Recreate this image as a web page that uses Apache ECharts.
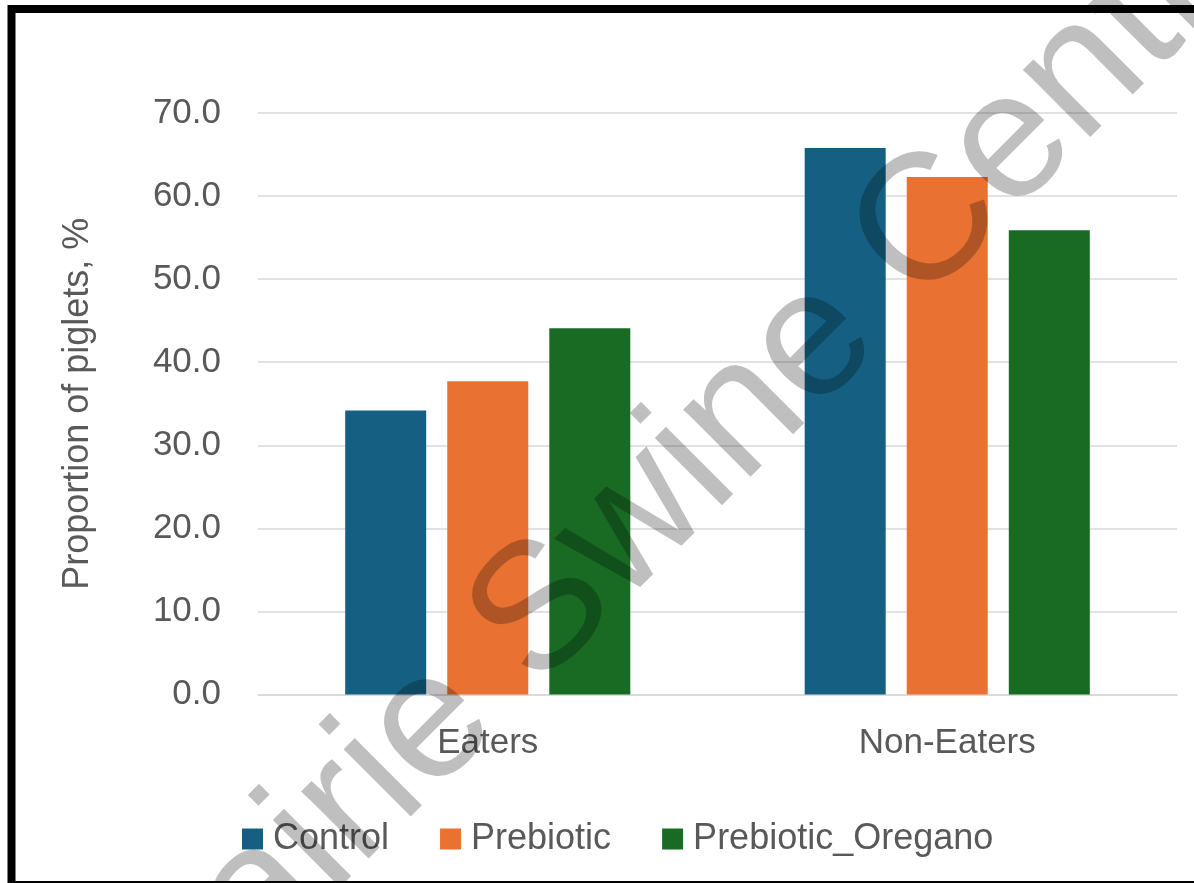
<!DOCTYPE html>
<html>
<head>
<meta charset="utf-8">
<script src="https://cdn.jsdelivr.net/npm/echarts@6/dist/echarts.min.js"></script>
<style>
  html, body { margin: 0; padding: 0; background: #ffffff; }
  #chart { width: 1194px; height: 883px; }
</style>
</head>
<body>
<div id="chart"></div>
<script>
// Feeding groups on the category axis
const categories = ['Eaters', 'Non-Eaters'];

// Treatment series, proportion of piglets (%)
const seriesNames = ['Control', 'Prebiotic', 'Prebiotic_Oregano'];
const control = [34.2, 65.8];
const prebiotic = [37.7, 62.3];
const prebioticOregano = [44.1, 55.9];

// Value-axis ticks
const yMin = 0;
const yMax = 70;
const yStep = 10;

const seriesColors = ['#156082', '#E97132', '#196B24'];
const textColor = '#595959';
const fontFamily = '"Liberation Sans", Arial, sans-serif';

const seriesValues = [control, prebiotic, prebioticOregano];

const chart = echarts.init(document.getElementById('chart'), null, { renderer: 'canvas' });

chart.setOption({
  backgroundColor: '#ffffff',
  animation: false,
  textStyle: { fontFamily: fontFamily },
  grid: { left: 258, right: 17, top: 113, bottom: 188.5, containLabel: false },
  legend: {
    data: seriesNames,
    left: 242,
    top: 821,
    padding: 0,
    icon: 'rect',
    itemWidth: 21,
    itemHeight: 21,
    itemGap: 51,
    textStyle: { color: textColor, fontSize: 36, fontFamily: fontFamily, padding: [0, 0, 0, 5] }
  },
  xAxis: {
    type: 'category',
    data: categories,
    axisLine: { show: true, lineStyle: { color: '#d9d9d9', width: 1.5 } },
    axisTick: { show: false },
    axisLabel: { color: textColor, fontSize: 35, fontFamily: fontFamily, margin: 31 },
    splitLine: { show: false }
  },
  yAxis: {
    type: 'value',
    min: yMin,
    max: yMax,
    interval: yStep,
    name: 'Proportion of piglets, %',
    nameLocation: 'middle',
    nameRotate: 90,
    nameGap: 162,
    nameTextStyle: { color: textColor, fontSize: 36, fontFamily: fontFamily },
    axisLine: { show: false },
    axisTick: { show: false },
    axisLabel: {
      color: textColor,
      fontSize: 35,
      fontFamily: fontFamily,
      margin: 37,
      formatter: function (v) { return v.toFixed(1); }
    },
    splitLine: { show: true, lineStyle: { color: '#d9d9d9', width: 1.5 } }
  },
  series: seriesNames.map(function (name, i) {
    return {
      name: name,
      type: 'bar',
      data: seriesValues[i],
      barWidth: 81,
      barGap: '26%',
      itemStyle: { color: seriesColors[i] }
    };
  }),
  graphic: [
    {
      // frame around the chart
      type: 'rect',
      z: 50,
      silent: true,
      shape: { x: 11.5, y: 9, width: 1200, height: 876 },
      style: { fill: 'none', stroke: '#000000', lineWidth: 8 }
    },
    {
      // diagonal watermark
      type: 'text',
      z: 100,
      silent: true,
      x: 682,
      y: 475,
      rotation: Math.PI / 4,
      style: {
        text: 'Prairie Swine Centre',
        font: '180px "Liberation Sans", Arial, sans-serif',
        fill: 'rgba(0,0,0,0.25)',
        textAlign: 'center',
        textVerticalAlign: 'middle'
      }
    }
  ]
});
</script>
</body>
</html>
